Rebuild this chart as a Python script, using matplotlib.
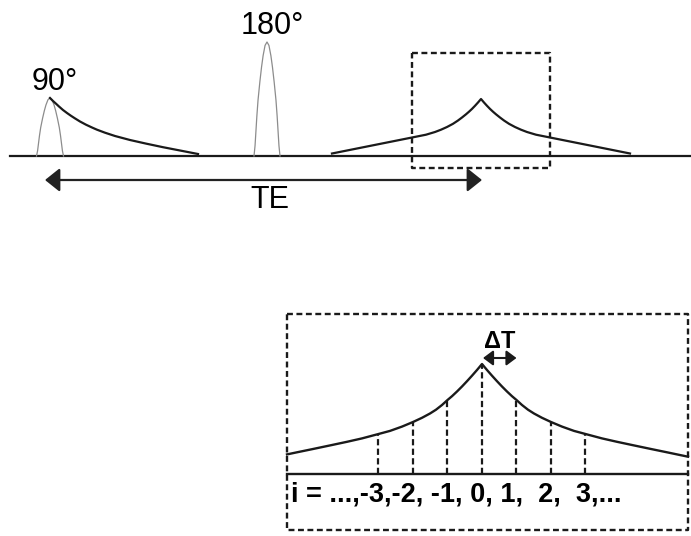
import numpy as np
import matplotlib
matplotlib.use('Agg')
import matplotlib.pyplot as plt
from matplotlib.patches import FancyArrowPatch

plt.rcParams['font.family'] = ['Liberation Sans', 'DejaVu Sans']

# ---- data (canvas units = pixels, y grows downward) ----
# RF pulses: centre, amplitude, half width, label
pulse_center = [50, 267]
pulse_amp = [58, 114]
pulse_halfwidth = [13.5, 13]
pulse_label = ['90°', '180°']
# normalised RF pulse profile (one half, mirrored)
pulse_u = [0.0, 0.15, 0.3, 0.42, 0.55, 0.69, 0.78, 0.85, 0.92, 1.0]
pulse_v = [1.0, 0.97, 0.88, 0.78, 0.65, 0.49, 0.35, 0.22, 0.09, 0.0]

# FID after the 90 deg pulse (offset from pulse centre, amplitude)
fid_t = [0, 3, 6, 9, 13, 17, 21, 25, 30, 36, 42, 47, 55, 65, 80, 96, 113, 130, 148]
fid_a = [58, 55, 52.3, 49.5, 46, 43, 40.2, 37.6, 34.5, 31.3, 28.5, 26.3, 23.3,
         20, 16, 12.4, 8.8, 5.5, 2]

# echo envelope in the overview (offset from TE, amplitude), one half
echo_t = [0, 3, 6, 9, 12, 15, 19, 23, 28, 34, 40, 46, 55, 69, 89, 110, 130, 149]
echo_a = [57, 53.5, 50.2, 47.1, 44.3, 41.7, 38.5, 35.5, 32.2, 29, 26.3, 24, 21.3,
          18.5, 14.5, 10.3, 6.3, 2.5]
TE = 481

# zoomed echo (offset from echo top, amplitude), one half
zoom_t = [0, 5, 10, 15, 20, 25, 30, 34.5, 40, 46, 52, 60, 69, 80, 92, 103.5,
          120, 135, 150, 169, 185, 195, 206]
zoom_a = [110, 104, 98.3, 92.8, 87.5, 82.5, 77.8, 74, 69, 64.3, 60.5, 56.2, 52,
          47.4, 43.1, 40, 35.6, 32.2, 29, 25, 21.7, 19.6, 17.3]
sample_i = [-3, -2, -1, 0, 1, 2, 3]
sample_a = [40, 52, 74, 110, 74, 52, 40]
dT = 34.5

# ---- layout ----
base_top = 156
base_bot = 474
zoom_c = 482
top_box = (412, 53, 550, 168)
bot_box = (287, 314, 688, 530)

ink = '#1a1a1a'

fig = plt.figure(figsize=(6.91, 5.36), dpi=100)
ax = fig.add_axes([0, 0, 1, 1])
ax.set_xlim(0, 691)
ax.set_ylim(536, 0)
ax.axis('off')


def mirror(t, a):
    t = np.asarray(t, float)
    a = np.asarray(a, float)
    return np.r_[-t[::-1], t[1:]], np.r_[a[::-1], a[1:]]


def dashed_box(x0, y0, x1, y1):
    ax.plot([x0, x1, x1, x0, x0], [y0, y0, y1, y1, y0], color=ink, lw=1.7,
            linestyle=(0, (2.5, 1.5)), solid_capstyle='butt')


# top panel
ax.plot([10, 691], [base_top, base_top], color=ink, lw=1.6)

pu, pv = mirror(pulse_u, pulse_v)
for c, amp, hw, lab in zip(pulse_center, pulse_amp, pulse_halfwidth, pulse_label):
    ax.plot(c + hw * pu, base_top - amp * pv, color='#8c8c8c', lw=0.9)
    ax.text(c + 5, base_top - amp - 8, lab, fontsize=22, ha='center', va='baseline')

ax.plot(pulse_center[0] + np.asarray(fid_t), base_top - np.asarray(fid_a),
        color=ink, lw=1.6)

et, ea = mirror(echo_t, echo_a)
ax.plot(TE + et, base_top - ea, color=ink, lw=1.6)

dashed_box(*top_box)

te_arrow = FancyArrowPatch((45, 180), (TE + 1, 180),
                           arrowstyle='<|-|>,head_length=0.45,head_width=0.36',
                           mutation_scale=20, color='#222222', lw=1.6,
                           shrinkA=0, shrinkB=0)
ax.add_patch(te_arrow)
ax.text(270, 208, 'TE', fontsize=22, ha='center', va='baseline')

# bottom panel (zoom of the echo)
dashed_box(*bot_box)
ax.plot([bot_box[0], bot_box[2]], [base_bot, base_bot], color=ink, lw=1.7)

zt, za = mirror(zoom_t, zoom_a)
keep = (zoom_c + zt >= bot_box[0]) & (zoom_c + zt <= bot_box[2])
ax.plot(zoom_c + zt[keep], base_bot - za[keep], color=ink, lw=1.7)

for i, a in zip(sample_i, sample_a):
    x = zoom_c + i * dT
    ax.plot([x, x], [base_bot, base_bot - a], color=ink, lw=1.6,
            linestyle=(0, (2.8, 1.5)))

dt_arrow = FancyArrowPatch((zoom_c + 1, 358), (zoom_c + dT, 358),
                           arrowstyle='<|-|>,head_length=0.6,head_width=0.45',
                           mutation_scale=10, color=ink, lw=1.5,
                           shrinkA=0, shrinkB=0)
ax.add_patch(dt_arrow)
ax.text(zoom_c + 18, 348, 'ΔT', fontsize=17, fontweight='bold',
        ha='center', va='baseline')

ax.text(291, 501, 'i = ...,-3,-2, -1, 0, 1,  2,  3,...', fontsize=19.5,
        fontweight='bold', ha='left', va='baseline')

fig.savefig('out.png', dpi=100)
